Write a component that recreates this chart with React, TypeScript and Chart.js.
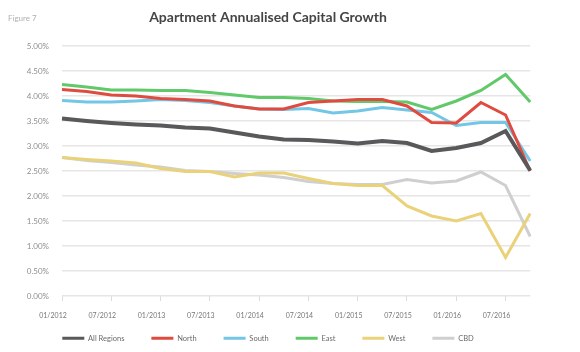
import React, { useEffect, useRef } from "react";
import { Chart, registerables } from "chart.js";

Chart.register(...registerables);

const quarters = [
  "01/2012", "04/2012", "07/2012", "10/2012",
  "01/2013", "04/2013", "07/2013", "10/2013",
  "01/2014", "04/2014", "07/2014", "10/2014",
  "01/2015", "04/2015", "07/2015", "10/2015",
  "01/2016", "04/2016", "07/2016", "10/2016",
];

const allRegions = [3.55, 3.5, 3.46, 3.43, 3.41, 3.37, 3.35, 3.27, 3.19, 3.13, 3.12, 3.09, 3.05, 3.1, 3.06, 2.9, 2.96, 3.06, 3.3, 2.51];
const north = [4.13, 4.09, 4.02, 4.0, 3.95, 3.93, 3.9, 3.8, 3.74, 3.74, 3.87, 3.9, 3.93, 3.93, 3.8, 3.47, 3.46, 3.87, 3.62, 2.5];
const south = [3.91, 3.88, 3.88, 3.9, 3.93, 3.91, 3.87, 3.8, 3.74, 3.73, 3.75, 3.66, 3.7, 3.77, 3.72, 3.67, 3.41, 3.47, 3.47, 2.7];
const east = [4.23, 4.18, 4.12, 4.12, 4.11, 4.11, 4.07, 4.02, 3.97, 3.97, 3.95, 3.9, 3.89, 3.89, 3.88, 3.73, 3.9, 4.11, 4.43, 3.88];
const west = [2.77, 2.73, 2.7, 2.66, 2.55, 2.49, 2.49, 2.38, 2.46, 2.46, 2.35, 2.25, 2.21, 2.21, 1.8, 1.6, 1.5, 1.65, 0.77, 1.65];
const cbd = [2.77, 2.71, 2.67, 2.62, 2.58, 2.51, 2.49, 2.45, 2.42, 2.37, 2.29, 2.25, 2.23, 2.23, 2.33, 2.26, 2.3, 2.48, 2.21, 1.19];

const seriesNames = ["All Regions", "North", "South", "East", "West", "CBD"];
const seriesColors = ["#59595b", "#e04b3f", "#74c6e6", "#62c96b", "#ead27a", "#cfcfcf"];
const seriesWidths = [4, 3, 3, 3, 3, 3];
const seriesData = [allRegions, north, south, east, west, cbd];

const titleText = "Apartment Annualised Capital Growth";
const figureLabel = "Figure 7";

// moves the legend row up so it sits just under the x-axis labels
const legendNudge = {
  id: "legendNudge",
  afterLayout(chart: any) {
    const lg = chart.legend;
    if (lg) {
      lg.top -= 13.5;
      lg.height = lg.bottom - lg.top;
    }
  },
};

export default function App() {
  const ref = useRef<HTMLCanvasElement | null>(null);

  useEffect(() => {
    if (!ref.current) return;
    Chart.defaults.font.family = "Lato, 'Open Sans', sans-serif";
    const chart = new Chart(ref.current, {
      type: "line",
      data: {
        labels: quarters,
        datasets: seriesNames.map((name, i) => ({
          label: name,
          data: seriesData[i],
          borderColor: seriesColors[i],
          backgroundColor: seriesColors[i],
          borderWidth: seriesWidths[i],
          pointRadius: 0,
          tension: 0,
          fill: false,
        })),
      },
      plugins: [legendNudge],
      options: {
        animation: false,
        responsive: false,
        layout: { padding: 0 },
        plugins: {
          tooltip: { enabled: false },
          title: {
            display: true,
            text: titleText,
            color: "#454545",
            font: { size: 14, weight: "bold" },
            padding: { top: 9.5, bottom: 19.7 },
          },
          legend: {
            position: "bottom",
            maxHeight: 31,
            labels: {
              boxWidth: 22,
              boxHeight: 3,
              padding: 27,
              color: "#6a6a6a",
              font: { size: 7.5 },
              generateLabels: (c: any) =>
                Chart.defaults.plugins.legend.labels
                  .generateLabels(c)
                  .map((it: any) => ({ ...it, fillStyle: it.strokeStyle, lineWidth: 0 })),
            },
          },
        },
        scales: {
          x: {
            type: "category",
            offset: false,
            afterFit: (s: any) => {
              s.height = 25;
            },
            grid: {
              display: true,
              drawOnChartArea: false,
              drawTicks: true,
              tickLength: 5,
              color: (ctx: any) => (ctx.index % 2 === 0 ? "#dcdcdc" : "rgba(0,0,0,0)"),
            },
            border: { display: false },
            ticks: {
              autoSkip: false,
              maxRotation: 0,
              padding: 10.8,
              labelOffset: -9,
              color: "#777",
              font: { size: 7 },
              callback: (_v: any, i: number) => (i % 2 === 0 ? quarters[i] : ""),
            },
          },
          y: {
            min: 0,
            max: 5,
            afterFit: (s: any) => {
              s.width = 67;
            },
            grid: { color: "#e6e6e6", lineWidth: 1.5, drawTicks: false },
            border: { display: false },
            ticks: {
              stepSize: 0.5,
              padding: 13,
              color: "#8f8f8f",
              font: { size: 8 },
              callback: (v: any) => Number(v).toFixed(2) + "%",
            },
          },
        },
      },
    });
    return () => chart.destroy();
  }, []);

  return (
    <div
      style={{
        position: "fixed",
        left: -5,
        top: 0,
        width: 546,
        height: 352,
        overflow: "hidden",
      }}
    >
      <span
        style={{
          position: "absolute",
          left: 13,
          top: 13,
          fontFamily: "Lato, sans-serif",
          fontSize: 8,
          color: "#b0b0b0",
          lineHeight: "10px",
        }}
      >
        {figureLabel}
      </span>
      <canvas ref={ref} width={546} height={352} style={{ display: "block" }} />
    </div>
  );
}
